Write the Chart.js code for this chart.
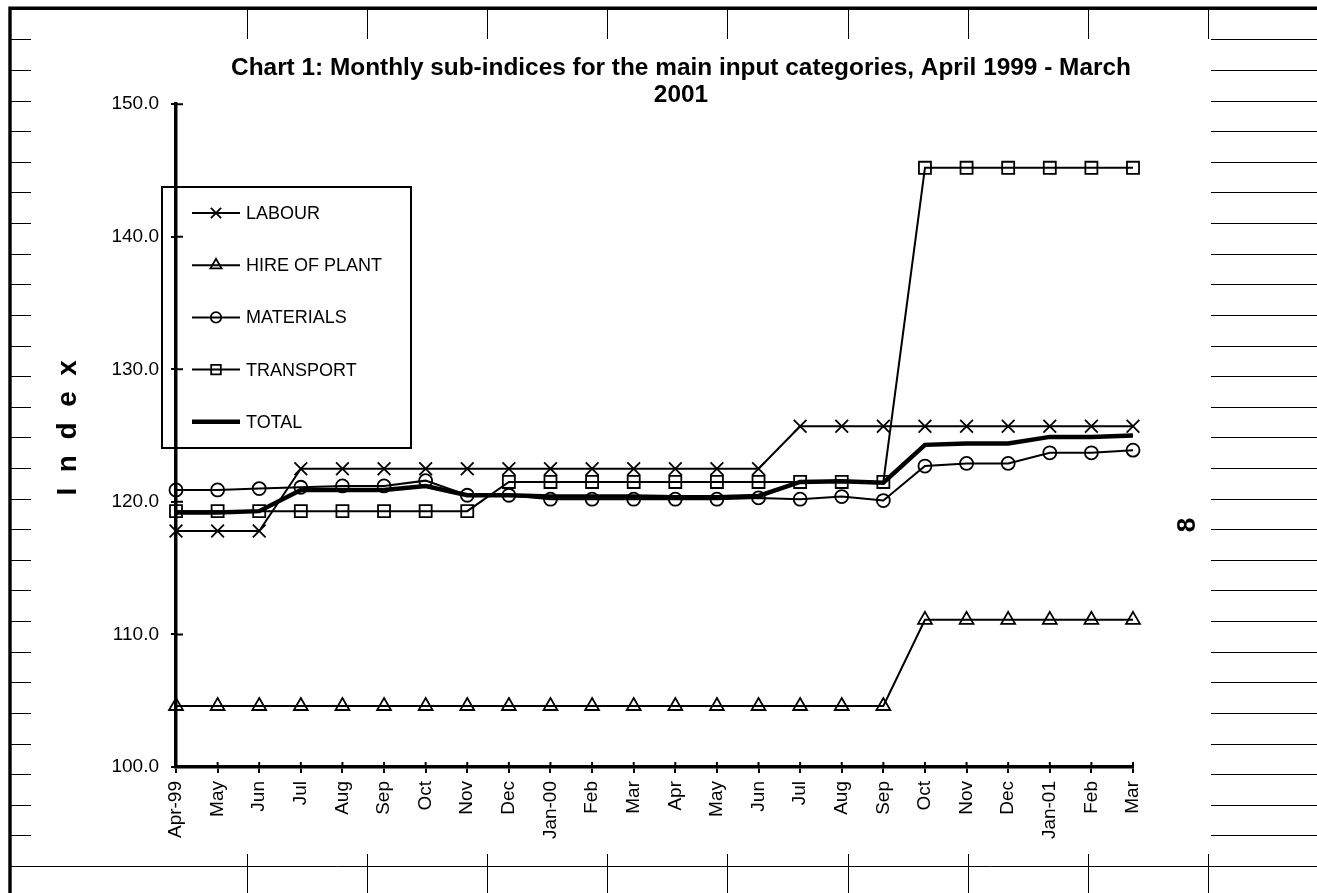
<!DOCTYPE html>
<html>
<head>
<meta charset="utf-8">
<title>Chart 1: Monthly sub-indices</title>
<script src="https://cdn.jsdelivr.net/npm/chart.js@4.4.1/dist/chart.umd.min.js"></script>
<style>
  html, body { margin: 0; padding: 0; background: #fff; overflow: hidden; }
  #sheet { position: absolute; left: 0; top: 0; }
  #chart { position: absolute; left: 45px; top: 0; }
</style>
</head>
<body>
<canvas id="sheet" width="1317" height="893"></canvas>
<canvas id="chart" width="1272" height="893"></canvas>
<script>
const FONT = "'Liberation Sans', Arial, Helvetica, sans-serif";

const months = ['Apr-99', 'May', 'Jun', 'Jul', 'Aug', 'Sep', 'Oct', 'Nov', 'Dec', 'Jan-00', 'Feb', 'Mar',
                'Apr', 'May', 'Jun', 'Jul', 'Aug', 'Sep', 'Oct', 'Nov', 'Dec', 'Jan-01', 'Feb', 'Mar'];
const labour = [117.8, 117.8, 117.8, 122.5, 122.5, 122.5, 122.5, 122.5, 122.5, 122.5, 122.5, 122.5,
                122.5, 122.5, 122.5, 125.7, 125.7, 125.7, 125.7, 125.7, 125.7, 125.7, 125.7, 125.7];
const hirePlant = [104.6, 104.6, 104.6, 104.6, 104.6, 104.6, 104.6, 104.6, 104.6, 104.6, 104.6, 104.6,
                   104.6, 104.6, 104.6, 104.6, 104.6, 104.6, 111.1, 111.1, 111.1, 111.1, 111.1, 111.1];
const materials = [120.9, 120.9, 121.0, 121.1, 121.2, 121.2, 121.6, 120.5, 120.5, 120.2, 120.2, 120.2,
                   120.2, 120.2, 120.3, 120.2, 120.4, 120.1, 122.7, 122.9, 122.9, 123.7, 123.7, 123.9];
const transport = [119.3, 119.3, 119.3, 119.3, 119.3, 119.3, 119.3, 119.3, 121.5, 121.5, 121.5, 121.5,
                   121.5, 121.5, 121.5, 121.5, 121.5, 121.5, 145.2, 145.2, 145.2, 145.2, 145.2, 145.2];
const total = [119.2, 119.2, 119.3, 120.9, 120.9, 120.9, 121.2, 120.5, 120.5, 120.4, 120.4, 120.4,
               120.35, 120.35, 120.45, 121.5, 121.55, 121.45, 124.3, 124.4, 124.4, 124.9, 124.9, 125.0];
const yTicks = [100, 110, 120, 130, 140, 150];

// spreadsheet cells behind the chart object
const sheet = document.getElementById('sheet').getContext('2d');
sheet.strokeStyle = '#000';
sheet.lineWidth = 1;
const rowY = k => Math.round(39.3 + k * 30.62) + 0.5;
sheet.beginPath();
for (let k = 0; k < 27; k++) {
  const y = rowY(k);
  sheet.moveTo(11, y); sheet.lineTo(31, y);
  sheet.moveTo(1211, y); sheet.lineTo(1317, y);
}
sheet.moveTo(11, rowY(27)); sheet.lineTo(1317, rowY(27));
for (let c = 0; c < 9; c++) {
  const x = Math.round(247 + c * 120.1) + 0.5;
  sheet.moveTo(x, 10); sheet.lineTo(x, 39);
  sheet.moveTo(x, 854); sheet.lineTo(x, 893);
}
sheet.stroke();
sheet.lineWidth = 3.4;
sheet.beginPath();
sheet.moveTo(10, 893); sheet.lineTo(10, 8.3); sheet.lineTo(1317, 8.3);
sheet.stroke();

// ticks that cross the axes
const innerTicks = {
  id: 'innerTicks',
  afterDraw(chart) {
    const { ctx, scales: { x, y } } = chart;
    ctx.save();
    ctx.strokeStyle = '#000';
    ctx.lineWidth = 2;
    ctx.beginPath();
    x.ticks.forEach((t, i) => {
      const px = x.getPixelForTick(i);
      ctx.moveTo(px, x.top); ctx.lineTo(px, x.top - 5);
    });
    y.ticks.forEach((t, i) => {
      const py = y.getPixelForTick(i);
      ctx.moveTo(y.right, py); ctx.lineTo(y.right + 7, py);
    });
    ctx.stroke();
    // stray "8" at the right edge of the chart object
    ctx.fillStyle = '#000';
    ctx.font = 'bold 26px ' + FONT;
    ctx.textAlign = 'center';
    ctx.textBaseline = 'middle';
    ctx.translate(1143, 525);
    ctx.rotate(-Math.PI / 2);
    ctx.fillText('8', 0, 0);
    ctx.restore();
  }
};

// boxed legend drawn from the datasets
const boxLegend = {
  id: 'boxLegend',
  afterDraw(chart, args, opts) {
    const ctx = chart.ctx;
    ctx.save();
    ctx.strokeStyle = '#000';
    ctx.lineWidth = 2;
    ctx.strokeRect(opts.x, opts.y, opts.w, opts.h);
    ctx.font = '18px ' + FONT;
    ctx.textBaseline = 'middle';
    chart.data.datasets.forEach((ds, i) => {
      const y = opts.y + opts.first + i * opts.step;
      ctx.lineWidth = ds.borderWidth;
      ctx.beginPath();
      ctx.moveTo(opts.x + 30, y); ctx.lineTo(opts.x + 78, y);
      ctx.stroke();
      if (ds.pointRadius > 0) {
        ctx.fillStyle = 'rgba(0,0,0,0)';
        ctx.lineWidth = ds.pointBorderWidth;
        Chart.helpers.drawPoint(ctx, {
          pointStyle: ds.pointStyle,
          radius: ds.pointRadius * 0.8,
          borderWidth: ds.pointBorderWidth,
          rotation: 0
        }, opts.x + 54, y);
      }
      ctx.fillStyle = '#000';
      ctx.fillText(ds.label, opts.x + 84, y + 1);
    });
    ctx.restore();
  }
};

function series(label, data, style, radius) {
  return {
    label: label,
    data: data,
    borderColor: '#000',
    borderWidth: 2,
    pointStyle: style,
    pointRadius: radius,
    pointBorderWidth: 1.8,
    pointBorderColor: '#000',
    pointBackgroundColor: 'rgba(0,0,0,0)',
    tension: 0,
    clip: false
  };
}

const totalSet = series('TOTAL', total, 'circle', 0);
totalSet.borderWidth = 4.5;

Chart.defaults.font.family = FONT;
Chart.defaults.color = '#000';

new Chart(document.getElementById('chart'), {
  type: 'line',
  data: {
    labels: months,
    datasets: [
      series('LABOUR', labour, 'crossRot', 9),
      series('HIRE OF PLANT', hirePlant, 'triangle', 8),
      series('MATERIALS', materials, 'circle', 6.5),
      series('TRANSPORT', transport, 'rect', 8.5),
      totalSet
    ]
  },
  options: {
    responsive: false,
    animation: false,
    layout: { padding: 0, autoPadding: false },
    plugins: {
      legend: { display: false },
      tooltip: { enabled: false },
      title: {
        display: true,
        text: ['Chart 1: Monthly sub-indices for the main input categories, April 1999 - March', '2001'],
        color: '#000',
        font: { size: 24.4, weight: 'bold', lineHeight: 1.13 },
        padding: { top: 54, bottom: -5 }
      },
      boxLegend: { x: 117, y: 187, w: 249, h: 261, first: 26, step: 52.2 }
    },
    scales: {
      x: {
        offset: false,
        border: { color: '#000', width: 3.5 },
        grid: { drawOnChartArea: false, color: '#000', lineWidth: 2, tickLength: 6 },
        ticks: { autoSkip: false, minRotation: 90, maxRotation: 90, padding: 8, font: { size: 19 } },
        afterFit: s => { s.height = 126; }
      },
      y: {
        min: 100,
        max: 150,
        afterBuildTicks: s => { s.ticks = yTicks.map(v => ({ value: v })); },
        border: { color: '#000', width: 3.5 },
        grid: { drawOnChartArea: false, color: '#000', lineWidth: 2, tickLength: 5 },
        ticks: { padding: 12, font: { size: 19 }, callback: v => v.toFixed(1) },
        title: {
          display: true,
          text: '  I  n  d  e  x',
          font: { size: 28, weight: 'bold' },
          padding: { top: 6, bottom: 0 }
        },
        afterFit: s => { s.width = 131; }
      },
      spare: {
        type: 'linear',
        position: 'right',
        display: true,
        grid: { display: false },
        border: { display: false },
        ticks: { display: false },
        afterFit: s => { s.width = 184; }
      }
    }
  },
  plugins: [innerTicks, boxLegend]
});
</script>
</body>
</html>
